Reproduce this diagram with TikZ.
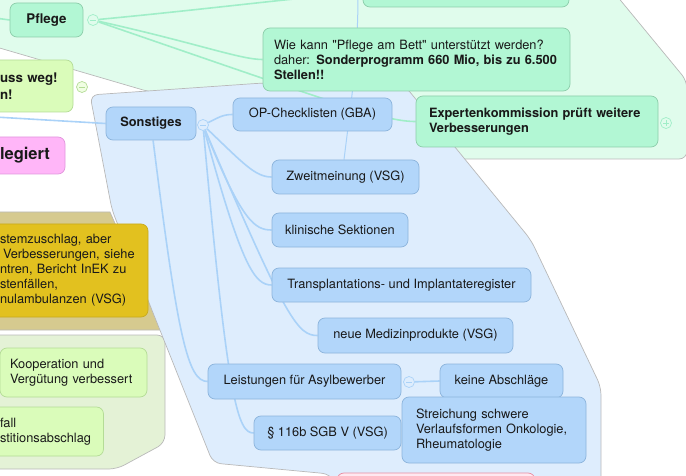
\documentclass[tikz,border=0pt]{standalone}
\usepackage{fontspec}
\setmainfont{TeX Gyre Heros}[Ligatures=TeXOff]
\usetikzlibrary{calc}
\definecolor{mintbg}{RGB}{224,252,236}
\definecolor{mintbox}{RGB}{178,247,212}
\definecolor{mintline}{RGB}{160,238,200}
\definecolor{mintedge}{RGB}{140,205,170}
\definecolor{bluebg}{RGB}{222,237,253}
\definecolor{bluebox}{RGB}{178,214,250}
\definecolor{blueline}{RGB}{170,210,248}
\definecolor{blueedge}{RGB}{140,180,220}
\definecolor{tanbg}{RGB}{214,202,143}
\definecolor{goldbox}{RGB}{226,193,31}
\definecolor{goldedge}{RGB}{200,170,30}
\definecolor{limebg}{RGB}{228,242,214}
\definecolor{limebox}{RGB}{218,252,186}
\definecolor{limeedge}{RGB}{180,220,150}
\definecolor{pinkbox}{RGB}{255,182,248}
\definecolor{pinkedge}{RGB}{225,150,220}
\definecolor{rosebox}{RGB}{255,232,240}
\definecolor{roseedge}{RGB}{235,140,160}
\definecolor{regionedge}{RGB}{185,185,185}
\definecolor{inktext}{RGB}{25,25,25}
\pgfdeclarelayer{back}
\pgfdeclarelayer{links}
\pgfsetlayers{back,links,main}

\begin{document}
\begin{tikzpicture}[x=1pt,y=-1pt,
    region/.style={draw=regionedge,line width=0.7pt,rounded corners=8pt},
    topic/.style={rectangle,rounded corners=7pt,line width=0.7pt,inner sep=0pt,text=inktext,font=\fontsize{12.8}{15}\selectfont},
    bluetopic/.style={topic,fill=bluebox,draw=blueedge},
    minttopic/.style={topic,fill=mintbox,draw=mintedge},
    limetopic/.style={topic,fill=limebox,draw=limeedge},
    foldminus/.style={circle,minimum size=11pt,inner sep=0pt,line width=0.7pt,draw=#1,
        path picture={\draw[#1,line width=0.8pt] ([xshift=-3pt]path picture bounding box.center) -- ([xshift=3pt]path picture bounding box.center);}},
    foldplus/.style={circle,minimum size=11pt,inner sep=0pt,line width=0.7pt,draw=#1,
        path picture={\draw[#1,line width=0.8pt] ([xshift=-3pt]path picture bounding box.center) -- ([xshift=3pt]path picture bounding box.center)
            ([yshift=-3pt]path picture bounding box.center) -- ([yshift=3pt]path picture bounding box.center);}},
    blueconn/.style={draw=blueline,line width=1.6pt},
    mintconn/.style={draw=mintline,line width=1.6pt}]
    \useasboundingbox (0,0) rectangle (686,476);
    \clip (0,0) rectangle (686,476);

    % Pflege
    \node[minttopic,minimum width=206pt,minimum height=27pt] (pfltop) at (466,-6.5) {};
    \node[minttopic,font=\fontsize{13.3}{16}\selectfont\bfseries,minimum width=73pt,minimum height=34pt] (pflege) at (46.5,20) {Pflege};
    \node[foldminus=mintline,fill=mintbg] (pflc) at (93,20) {};
    \node[minttopic,align=left,text width=285pt,inner xsep=11pt,minimum height=63pt] (bett) at (416.5,59.5)
        {Wie kann "Pflege am Bett" unterstützt werden?\\daher: \textbf{Sonderprogramm 660 Mio, bis zu 6.500}\\\textbf{Stellen!!}};
    \node[minttopic,font=\fontsize{12.8}{15}\selectfont\bfseries,align=left,text width=216pt,inner xsep=13pt,minimum height=51pt] (expert) at (537,121.5)
        {Expertenkommission prüft weitere\\Verbesserungen};
    \node[foldplus=mintline,fill=mintbg] (expc) at (666,123) {};

    % Sonstiges
    \node[bluetopic,font=\fontsize{12.8}{15}\selectfont\bfseries,minimum width=90pt,minimum height=33pt] (sonst) at (151,123.5) {Sonstiges};
    \node[foldminus=blueline,fill=bluebg] (sonc) at (203,125) {};
    \node[bluetopic,minimum width=159pt,minimum height=33pt] (opcheck) at (312.5,114.5) {OP-Checklisten (GBA)};
    \node[bluetopic,minimum width=147pt,minimum height=34pt] (zweit) at (345.5,177) {Zweitmeinung (VSG)};
    \node[bluetopic,minimum width=136pt,minimum height=34pt] (sektion) at (340,230) {klinische Sektionen};
    \node[bluetopic,minimum width=259pt,minimum height=34pt] (register) at (401.5,285) {Transplantations- und Implantateregister};
    \node[bluetopic,minimum width=195pt,minimum height=35pt] (medprod) at (415.5,335.5) {neue Medizinprodukte (VSG)};
    \node[bluetopic,minimum width=193pt,minimum height=35pt] (asyl) at (304.5,381.5) {Leistungen für Asylbewerber};
    \node[foldminus=blueline,fill=bluebg] (asylc) at (409,382) {};
    \node[bluetopic,minimum width=123pt,minimum height=34pt] (abschlag) at (501.5,381) {keine Abschläge};
    \node[bluetopic,minimum width=147pt,minimum height=34pt] (sgb) at (327.5,433) {§ 116b SGB V (VSG)};
    \node[bluetopic,align=left,text width=156pt,inner xsep=14pt,minimum height=66pt] (streich) at (494,430)
        {Streichung schwere\\Verlaufsformen Onkologie,\\Rheumatologie};

    % cut off at the left
    \node[limetopic,font=\fontsize{13.3}{16.5}\selectfont\bfseries,align=left,text width=61pt,inner xsep=12pt,minimum height=52pt] (weg) at (30.5,86) {uss weg!\\n!};
    \node[foldminus=limeedge,fill=limebox!40] (wegc) at (82,87) {};
    \node[topic,fill=pinkbox,draw=pinkedge,font=\fontsize{16.5}{19}\selectfont\bfseries,align=left,text width=53pt,inner xsep=12pt,minimum height=37pt] (legiert) at (26.5,155.5) {legiert};
    \node[topic,fill=goldbox,draw=goldedge,align=left,text width=136pt,inner xsep=12pt,minimum height=93pt] (gold) at (68,270.5)
        {stemzuschlag, aber\\\hspace*{3pt}Verbesserungen, siehe\\ntren, Bericht InEK zu\\stenfällen,\\nulambulanzen (VSG)};
    \node[limetopic,align=left,text width=127pt,inner xsep=10pt,minimum height=49pt] (koop) at (73.5,372.5) {Kooperation und\\Vergütung verbessert};
    \node[limetopic,align=left,text width=92pt,inner xsep=11.5pt,minimum height=49pt] (invest) at (46,431.5) {fall\\stitionsabschlag};
    \node[topic,fill=rosebox,draw=roseedge,minimum width=198pt,minimum height=38pt] (rose) at (436,492) {};

    \begin{pgfonlayer}{back}
        \filldraw[region,fill=mintbg] (-10,45.2) -- (150,92) -- (400,110) -- (456,159) -- (687,159) -- (687,81) -- (612,-10) -- (-10,-10) -- cycle;
        \filldraw[region,sharp corners,fill=tanbg] (-10,212) -- (110,212) -- (162,330) -- (-10,330) -- cycle;
        \filldraw[region,fill=limebg] (-10,335) -- (165,335) -- (165,443) -- (117,469) -- (-10,469) -- cycle;
        \filldraw[region,fill=bluebg] (112,210) -- (90,95) -- (263,83) -- (405,86) -- (531,240) -- (601,387) -- (601,490) -- (340,490) -- (330,474) -- (213,463) -- cycle;
    \end{pgfonlayer}

    \begin{pgfonlayer}{links}
        \coordinate (pflin) at (-5,18);
        \coordinate (sonin) at (-5,117);
        \coordinate (relin) at (358,-5);
        \draw[mintconn] (pflin) -- (pflege.west);
        \draw[mintconn] (pflc) .. controls (220,8) and (330,-6.5) .. (pfltop.west);
        \draw[mintconn] (pflc) .. controls (200,44) and (240,59.5) .. (bett.west);
        \draw[mintconn] (pflc) .. controls (340,105) and (385,121.5) .. (expert.west);
        \draw[blueconn] (sonin) -- (sonst.west);
        \draw[blueconn,line width=1pt] (relin) .. controls (358,60) and (350,110) .. ([xshift=-1.5pt]zweit.north);
        \draw[blueconn] (sonc) .. controls (218,118) and (222,114.5) .. (opcheck.west);
        \draw[blueconn] (sonc) .. controls (243,163) and (255,177) .. (zweit.west);
        \draw[blueconn] (sonc) .. controls (242,222) and (255,230) .. (sektion.west);
        \draw[blueconn] (sonc) .. controls (242,268) and (255,285) .. (register.west);
        \draw[blueconn] (sonc) .. controls (287,322) and (298,335.5) .. (medprod.west);
        \draw[blueconn] (sonc) .. controls (228,405) and (238,433) .. (sgb.west);
        \draw[blueconn] (sonst) .. controls (178,340) and (188,381.5) .. (asyl.west);
        \draw[blueconn] (asylc) -- (abschlag.west);
    \end{pgfonlayer}
\end{tikzpicture}
\end{document}
